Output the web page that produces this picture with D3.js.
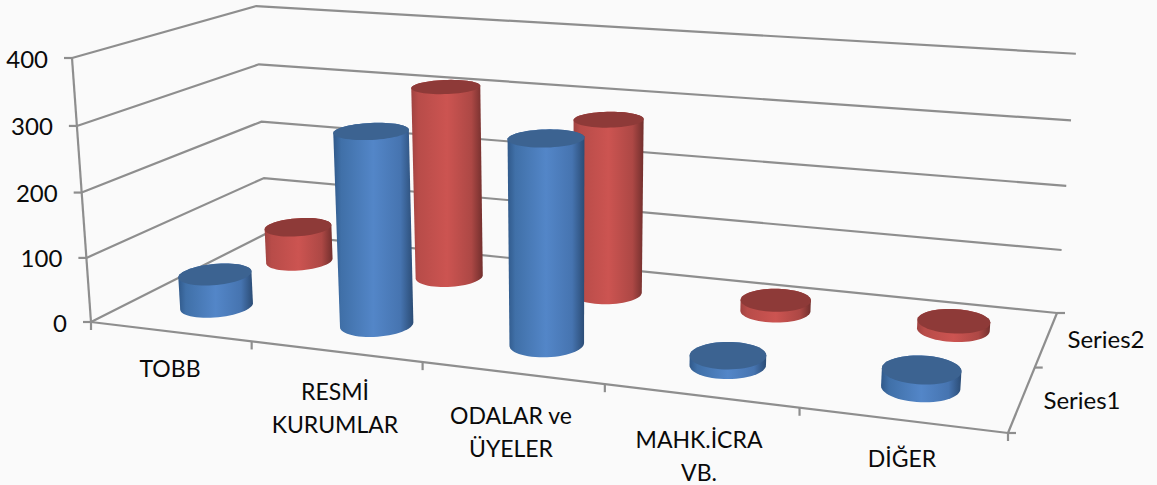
<!DOCTYPE html>
<html><head><meta charset="utf-8">
<style>html,body{margin:0;padding:0;background:#fafafa}svg{display:block}text{font-family:Lato,"Open Sans",sans-serif;fill:#0a0a0a}</style>
<script src="https://cdn.jsdelivr.net/npm/d3@7/dist/d3.min.js"></script>
</head><body><svg id="c" width="1157" height="485"></svg>
<script>
const categories=["TOBB","RESMİ KURUMLAR","ODALAR ve ÜYELER","MAHK.İCRA VB.","DİĞER"];
const categoryLines=[["TOBB"],["RESMİ","KURUMLAR"],["ODALAR ve","ÜYELER"],["MAHK.İCRA","VB."],["DİĞER"]];
const seriesNames=["Series1","Series2"];
const series1=[51,295,305,14,25];
const series2=[58,312,279,17,13];
const valueTicks=[0,100,200,300,400];

// layout
const floorQ=[[91,322],[1008,433],[1057,313],[266.5,233.5]]; // FL FR BR BL
const frontLeftTop=[72,58], verticalVanish=[571,6989];
const catLabelPos=[[170,369],[335,392],[511,416],[699,440],[902,459]];
const seriesLabelPos=[[1082,401],[1106,340]];

function projective(q,tA,V){
  const [[x0,y0],[x1,y1],[x2,y2],[x3,y3]]=q;
  const dx1=x1-x2,dx2=x3-x2,dx3=x0-x1+x2-x3,dy1=y1-y2,dy2=y3-y2,dy3=y0-y1+y2-y3;
  const d=dx1*dy2-dx2*dy1;
  const g=(dx3*dy2-dx2*dy3)/d,h=(dx1*dy3-dx3*dy1)/d;
  const a=x1-x0+g*x1,b=x3-x0+h*x3,c=x0,e=y1-y0+g*y1,f=y3-y0+h*y3,k=y0;
  const m=(tA[1]-y0)/(V[1]-tA[1]);
  const tx=V[0]*m, ty=V[1]*m;
  return (u,v,t)=>{const w=g*u+h*v+1+m*t;return[(a*u+b*v+c+tx*t)/w,(e*u+f*v+k+ty*t)/w];};
}
const proj=projective(floorQ,frontLeftTop,verticalVanish);
const yS=d3.scaleLinear().domain([0,400]).range([0,1]);
const xS=d3.scaleBand().domain(categories).range([0,1]);
const zS=d3.scaleBand().domain(seriesNames).range([0,1]);
const P=(u,v,val)=>proj(u,v,yS(val));

const svg=d3.select("#c");
const defs=svg.append("defs");
function grad(id,stops){const g=defs.append("linearGradient").attr("id",id).attr("x1",0).attr("x2",1).attr("y1",0).attr("y2",0);
  stops.forEach(([o,c])=>g.append("stop").attr("offset",o).attr("stop-color",c));}
grad("g0",[[0,"#30598a"],[.1,"#4070a8"],[.5,"#5386c8"],[.84,"#4674b0"],[1,"#2b4c75"]]);
grad("g1",[[0,"#a04341"],[.1,"#b84c49"],[.5,"#cc5451"],[.84,"#ad4845"],[1,"#722f2d"]]);
const topCol=["#3c6391","#8e3a38"];

const line=d3.line();
const gridStyle=s=>s.attr("fill","none").attr("stroke","#8e8e8e").attr("stroke-width",2.2);
const seg=(a,b)=>svg.append("path").attr("d",line([a,b])).call(gridStyle);

valueTicks.forEach(t=>{
  const a=P(0,0,t),b=P(0,1,t),c=P(1,1,t);
  svg.append("path").attr("d",line([a,b,c])).call(gridStyle);
  seg([a[0]-8,a[1]],a);
  svg.append("text").attr("x",a[0]-24).attr("y",a[1]+9.5).attr("text-anchor","end").attr("font-size",24).text(t);
});
seg(P(0,0,0),P(0,0,400));
seg(P(0,0,0),P(1,0,0));
seg(P(1,0,0),P(1,1,0));
d3.range(0,6).forEach(i=>{const a=P(i/5,0,0);seg(a,[a[0],a[1]+8]);});
[0,.5,1].forEach(v=>{const a=P(1,v,0);seg(a,[a[0]+8,a[1]]);});

const ru=xS.bandwidth()*0.195,rv=zS.bandwidth()*0.225;
const angles=d3.range(0,360,6).map(d=>d*Math.PI/180);
const ring=(cu,cv,val)=>angles.map(a=>P(cu+ru*Math.cos(a),cv+rv*Math.sin(a),val));
const allSeries=[series1,series2];
[1,0].forEach(s=>{
  categories.forEach((cat,i)=>{
    const val=allSeries[s][i];
    const cu=xS(cat)+xS.bandwidth()/2, cv=zS(seriesNames[s])+zS.bandwidth()/2;
    const base=ring(cu,cv,0), top=ring(cu,cv,val);
    const hull=d3.polygonHull(base.concat(top));
    svg.append("path").attr("d",line(hull)+"Z").attr("fill",`url(#g${s})`);
    svg.append("path").attr("d",line(top)+"Z").attr("fill",topCol[s]);
  });
});

categoryLines.forEach((lines,i)=>{
  const t=svg.append("text").attr("text-anchor","middle").attr("font-size",23);
  lines.forEach((l,j)=>t.append("tspan").attr("x",catLabelPos[i][0]).attr("y",catLabelPos[i][1]+8+j*32.5).text(l));
});
seriesNames.forEach((n,i)=>{
  svg.append("text").attr("x",seriesLabelPos[i][0]).attr("y",seriesLabelPos[i][1]+8).attr("text-anchor","middle").attr("font-size",24).text(n);
});
</script></body></html>
